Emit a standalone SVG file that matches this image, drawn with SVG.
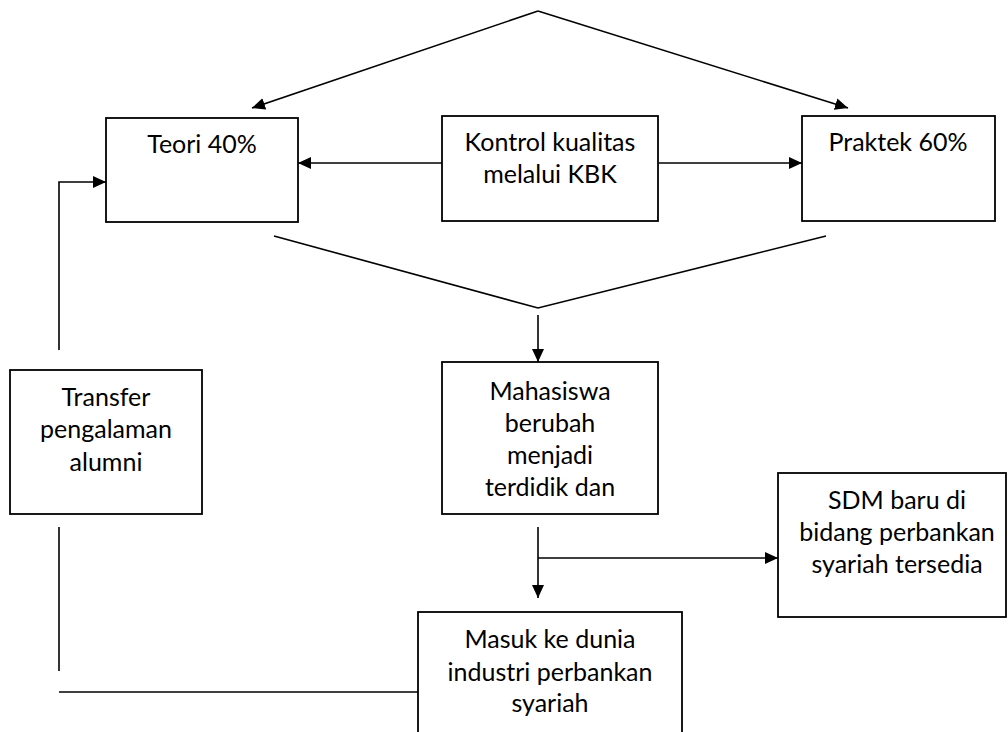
<svg xmlns="http://www.w3.org/2000/svg" width="1008" height="732" viewBox="0 0 1008 732">
<defs>
<style>
.box{fill:#fff;stroke:#000;stroke-width:1.8}
.ln{fill:none;stroke:#000;stroke-width:1.6}
text{font-family:Lato,"Open Sans",sans-serif;font-size:25px;fill:#000;text-anchor:middle}
</style>
<marker id="ah" markerWidth="13" markerHeight="12" refX="13" refY="6" orient="auto" markerUnits="userSpaceOnUse">
<path d="M0,0 L13,6 L0,12 Z" fill="#000"/>
</marker>
</defs>
<rect width="1008" height="732" fill="#fff"/>
<g id="connectors">
<path class="ln" d="M538,11 L252,108" marker-end="url(#ah)"/>
<path class="ln" d="M538,11 L848,108" marker-end="url(#ah)"/>
<path class="ln" d="M442,163 L298,163" marker-end="url(#ah)"/>
<path class="ln" d="M659,163 L802,163" marker-end="url(#ah)"/>
<path class="ln" d="M274,236 L538,308 L826,236"/>
<path class="ln" d="M538,315 L538,362" marker-end="url(#ah)"/>
<path class="ln" d="M538,527 L538,598" marker-end="url(#ah)"/>
<path class="ln" d="M538,558 L778,558" marker-end="url(#ah)"/>
<path class="ln" d="M59,350 L59,182 L106,182" marker-end="url(#ah)"/>
<path class="ln" d="M59,527 L59,671"/>
<path class="ln" d="M59,692 L418,692"/>
</g>
<g id="teori"><rect class="box" x="106" y="118" width="192" height="104"/><text x="202" y="153">Teori 40%</text></g>
<g id="kontrol"><rect class="box" x="442" y="116" width="216" height="105"/><text x="550" y="151">Kontrol kualitas</text><text x="550" y="183">melalui KBK</text></g>
<g id="praktek"><rect class="box" x="802" y="116" width="193" height="105"/><text x="898" y="151">Praktek 60%</text></g>
<g id="transfer"><rect class="box" x="10" y="370" width="192" height="144"/><text x="106" y="406">Transfer</text><text x="106" y="438">pengalaman</text><text x="106" y="471">alumni</text></g>
<g id="mahasiswa"><rect class="box" x="442" y="362" width="216" height="152"/><text x="550" y="400">Mahasiswa</text><text x="550" y="432">berubah</text><text x="550" y="464">menjadi</text><text x="550" y="496">terdidik dan</text></g>
<g id="sdm"><rect class="box" x="778" y="473" width="228" height="144"/><text x="897" y="509">SDM baru di</text><text x="897" y="541">bidang perbankan</text><text x="897" y="573">syariah tersedia</text></g>
<g id="masuk"><rect class="box" x="418" y="612" width="264" height="130"/><text x="550" y="648">Masuk ke dunia</text><text x="550" y="681">industri perbankan</text><text x="550" y="712">syariah</text></g>
</svg>
